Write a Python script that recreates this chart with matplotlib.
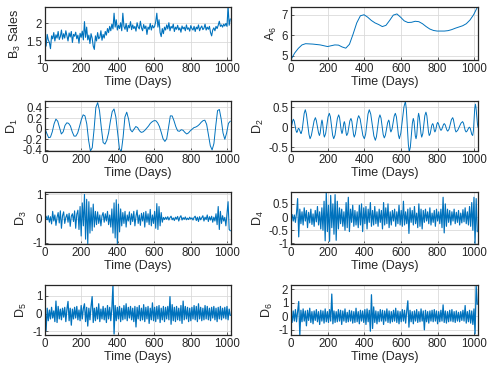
import numpy as np
import matplotlib
matplotlib.use('Agg')
import matplotlib.pyplot as plt

plt.rcParams['font.family'] = ['Liberation Sans', 'DejaVu Sans']
plt.rcParams['mathtext.fontset'] = 'custom'
plt.rcParams['mathtext.rm'] = 'Liberation Sans'
plt.rcParams['mathtext.it'] = 'Liberation Sans'
plt.rcParams['mathtext.default'] = 'regular'
plt.rcParams['axes.unicode_minus'] = False

# ---- data (values every 6 days unless noted) ----
b3_sales = [1.62, 1.38, 1.70, 1.55, 1.48, 1.31, 1.66, 1.58, 1.75, 1.52, 1.69, 1.60, 1.78, 1.56, 1.64, 1.82, 1.57,
            1.72, 1.60, 1.80, 1.66, 1.52, 1.74, 1.63, 1.78, 1.48, 1.70, 1.65, 1.76, 1.58, 1.68, 1.46, 1.73, 1.62, 1.79, 1.55,
            2.05, 1.62, 1.90,
            1.55, 1.68, 1.45, 1.72, 1.60, 1.38, 1.29, 1.66, 1.52, 1.75, 1.58, 1.62, 1.80, 1.54, 1.70, 1.60,
            1.78, 1.68, 1.86, 1.75, 1.92, 1.80,
            1.98, 1.85, 2.28, 1.90, 2.10, 1.82,
            1.95, 1.86, 2.02, 1.80, 2.28, 1.92, 1.84, 2.00, 1.78, 1.95, 1.88, 2.05, 1.83, 1.96, 1.86, 1.92, 1.79, 2.02,
            1.90, 1.85, 2.06, 1.88, 1.80, 1.97, 1.86, 1.93, 1.70, 1.90, 1.84, 2.00, 1.82, 1.95, 1.88, 1.92,
            2.05, 2.28, 1.90, 2.10, 1.75, 1.64, 1.86, 1.72,
            1.90, 1.82, 1.96, 1.85, 2.02, 1.80, 1.92, 1.87, 1.98, 1.78, 1.90, 1.84, 1.95, 1.82, 1.88, 1.76, 1.93, 1.85,
            1.90, 1.80, 1.96, 1.84, 1.88, 1.79, 1.94, 1.86, 1.82, 1.92, 1.78, 1.90, 1.85, 1.96, 1.80, 1.88, 1.93, 1.83,
            1.87, 1.98, 1.82, 1.90, 1.84, 1.92,
            1.75, 1.66, 1.82, 1.88, 1.80, 1.92, 1.86, 1.95, 2.06,
            1.92, 1.96, 1.90, 1.98, 1.93, 2.00, 1.92, 2.46, 1.95, 2.12]

# A6 every 20 days
a6 = [4.80, 5.12, 5.35, 5.52, 5.58, 5.57, 5.56, 5.54, 5.52, 5.48, 5.44, 5.48, 5.52, 5.51, 5.42, 5.36, 5.55,
      6.05, 6.60, 6.95, 7.00, 6.88, 6.72, 6.60, 6.52, 6.42, 6.48, 6.72, 6.98, 7.04, 6.88, 6.70, 6.62, 6.63,
      6.68, 6.66, 6.56, 6.42, 6.30, 6.23, 6.20, 6.20, 6.20, 6.22, 6.27, 6.34, 6.40, 6.46, 6.56, 6.74, 7.00, 7.36]

# D1 every 10 days
d1 = [0.00, -0.09, -0.17, -0.16, -0.06, 0.09, 0.18, 0.14, 0.02, -0.10, -0.06, 0.06, 0.11, 0.10, 0.05, -0.06,
      -0.14, -0.14, -0.08, 0.04, 0.17, 0.26, 0.24, 0.09, -0.22, -0.42, -0.36, -0.02, 0.40, 0.49, 0.34, 0.02,
      -0.26, -0.29, -0.22, -0.08, 0.14, 0.32, 0.37, 0.22, -0.08, -0.38, -0.43, -0.16, 0.22, 0.31, 0.18, -0.02,
      -0.06, -0.01, 0.04, 0.02, -0.04, -0.07, -0.06, -0.03, 0.01, 0.05, 0.10, 0.13, 0.15, 0.15, 0.11, 0.04,
      -0.07, -0.19, -0.24, -0.19, 0.02, 0.24, 0.24, 0.15, 0.04, -0.04, -0.05, -0.02, -0.03, -0.07, -0.10, -0.08,
      -0.04, -0.01, 0.02, 0.03, 0.05, 0.08, 0.12, 0.15, 0.16, 0.08, -0.12, -0.32, -0.40, -0.28, 0.05, 0.34,
      0.36, 0.18, -0.08, -0.20, -0.08, 0.10, 0.14]

# D2 at turning points and between them
d2_days = [0, 3, 10, 13, 18, 27, 31, 34, 39, 42, 45, 52, 55, 61, 72, 78, 84, 98, 104, 111, 126, 133, 138, 150,
           155, 159, 166, 169, 172, 179, 182, 189, 202, 209, 215, 227, 233, 240, 253, 260, 265, 274, 278, 281,
           288, 291, 294, 301, 304, 310, 321, 327, 332, 341, 345, 351, 363, 369, 377, 392, 400, 407, 420, 427,
           435, 452, 460, 466, 479, 485, 491, 503, 509, 515, 527, 533, 536, 542, 545, 551, 563, 569, 575, 586,
           591, 599, 616, 624, 629, 640, 645, 651, 662, 667, 671, 678, 682, 686, 693, 696, 700, 709, 713, 719,
           730, 736, 741, 750, 754, 759, 768, 773, 776, 782, 785, 789, 796, 800, 804, 814, 818, 822, 832, 836,
           841, 850, 855, 862, 875, 882, 886, 896, 900, 909, 927, 936, 941, 950, 955, 960, 969, 973, 978, 986,
           991, 995, 1002, 1006, 1009, 1017, 1020]
d2 = [0.00, 0.03, 0.17, 0.20, 0.15, -0.08, -0.13, -0.12, -0.04, -0.03, -0.05, -0.14, -0.16, -0.07, 0.35, 0.44,
      0.33, -0.18, -0.29, -0.21, 0.16, 0.24, 0.17, -0.14, -0.21, -0.15, 0.12, 0.18, 0.12, -0.19, -0.25, -0.16,
      0.26, 0.35, 0.26, -0.20, -0.29, -0.20, 0.22, 0.31, 0.24, -0.09, -0.16, -0.12, 0.10, 0.14, 0.09, -0.16,
      -0.21, -0.15, 0.16, 0.22, 0.15, -0.18, -0.25, -0.17, 0.21, 0.29, 0.21, -0.21, -0.29, -0.18, 0.33, 0.44,
      0.33, -0.22, -0.33, -0.24, 0.22, 0.31, 0.23, -0.19, -0.27, -0.20, 0.11, 0.18, 0.14, -0.08, -0.12, -0.05,
      0.28, 0.35, 0.26, -0.20, -0.29, -0.15, 0.51, 0.65, 0.46, -0.43, -0.62, -0.50, 0.10, 0.22, 0.15, -0.22,
      -0.29, -0.20, 0.26, 0.35, 0.26, -0.16, -0.25, -0.16, 0.29, 0.38, 0.29, -0.12, -0.21, -0.17, 0.05, 0.09,
      0.06, -0.09, -0.12, -0.08, 0.08, 0.12, 0.09, -0.05, -0.08, -0.06, 0.07, 0.09, 0.06, -0.07, -0.10, -0.05,
      0.19, 0.24, 0.19, -0.07, -0.12, -0.08, 0.10, 0.14, 0.10, -0.08, -0.12, -0.10, -0.02, 0.00, -0.03, -0.18,
      -0.21, -0.09, 0.46, 0.58, 0.50, 0.08, 0.00]

d3 = [0.05, 0.10, -0.05, 0.12, -0.15, 0.08, -0.22, 0.30, -0.10, 0.15, -0.28, 0.05, 0.25, -0.18, 0.32, -0.40,
      0.12, 0.28, -0.20, 0.05, 0.18, -0.15, 0.22, -0.32, 0.10, 0.20, -0.12, 0.32, -0.40, 0.18, 0.35,
      -0.45, 0.50, -0.72, 0.65, -0.30, 1.00, -0.85, 0.80, -1.05, 0.70, -0.60, 0.45, -0.50, 0.60,
      -0.35, 0.30, -0.25, 0.28, -0.20, 0.15, -0.30, 0.12, 0.25, -0.15, 0.20, -0.10,
      0.30, -0.25, 0.15, -0.35, 0.40,
      -0.60, 0.65, -0.80, 0.78, -1.05, 0.60, -0.55, 0.40, -0.30,
      0.25, -0.20, 0.30, -0.35, 0.15, -0.10, 0.28, -0.25, 0.20, -0.12, 0.30, -0.30, 0.10, 0.35, -0.20, 0.15,
      -0.28, 0.22, -0.10, 0.25, -0.35, 0.30, -0.15, 0.20, -0.25, 0.38, -0.30, 0.15, -0.20,
      0.30, -0.40, 0.62, -0.45, 0.50, -0.30, 0.25, -0.15,
      0.05, -0.04, 0.06, -0.03, 0.08, -0.06, 0.04, 0.10, -0.05, 0.03, -0.08, 0.06, -0.02, 0.09, -0.10, 0.05,
      0.12, -0.06, 0.04, -0.03, 0.07, -0.05, 0.02, -0.04, 0.06, -0.02, 0.03, -0.06, 0.05, 0.10, -0.08, 0.06,
      -0.12, 0.08, -0.05, 0.04, 0.12, -0.10, 0.06, -0.04, 0.15, -0.12, 0.08, -0.06, 0.10, -0.15, 0.06, -0.10,
      0.20, -0.25, 0.50, -0.45, 0.30, -0.20,
      0.12, -0.10, 0.05, -0.30, 0.20, 0.70, -0.45, -0.50]

d4 = [-0.05, 0.10, -0.15, 0.08, -0.20, 0.15,
      0.70, -0.75, 0.30,
      -0.25, 0.20, -0.30, 0.35, -0.15, 0.25, -0.40, 0.18, -0.22, 0.30, -0.28, 0.12, -0.35, 0.25, -0.18, 0.40,
      -0.30, 0.20, -0.45, 0.35,
      -0.50, 0.60, -0.90, 0.95, -0.55, 0.45, -0.92, 0.82, -0.40, 0.50, -0.65, 0.85, -0.88, 0.60, -0.45, 0.35,
      -0.25, 0.30, -0.35, 0.20, -0.50, 0.55, -0.40, 0.75, -0.55, 0.30, -0.20, 0.45, -0.35, 0.25, -0.30, 0.20,
      -0.40, 0.45, -0.30, 0.50, -0.55, 0.35, -0.25, 0.40, -0.45, 0.30, -0.20, 0.55, -0.35, 0.25, -0.30, 0.40,
      -0.25, 0.20, -0.35,
      0.30, -0.20, 0.25, -0.45, 0.55, -0.30, 0.35, -0.25, 0.50, -0.40, 0.20, -0.30, 0.25, -0.15, 0.30, -0.35,
      0.20, -0.25, 0.45, -0.30,
      0.25, -0.35, 0.60, -0.30, 0.20, -0.25, 0.30, -0.62, 0.35, -0.20, 0.25, -0.30, 0.40, -0.25, 0.15, -0.40,
      0.50, -0.35, 0.30, -0.45,
      0.25, -0.20, 0.30, -0.15, 0.20, -0.25, 0.35, -0.30, 0.15, -0.20, 0.25, -0.35, 0.30, -0.15, 0.20, -0.25, 0.30,
      -0.40, 0.75, -0.60, 0.50, -0.35, 0.30,
      -0.20, 0.25, -0.30, 0.20, -0.15, 0.30, -0.25, 0.18, -0.20, 0.25, -0.30, 0.15, -0.22, 0.28, -0.18, 0.35,
      -0.25, 0.20, -0.30,
      0.40, -0.35, 0.55, -0.50, 0.75, -1.00, 0.70, -0.55]

d5 = [0.45, -0.95, 0.30, -0.40, 0.20, -0.30, 0.35, -0.25, 0.15, -0.45,
      0.70, -0.50, 0.40,
      -0.30, 0.25, -0.35, 0.30, -0.20, 0.35, -0.45, 0.25,
      0.68, -0.40, 0.30,
      -0.65, 0.25, -0.30, 0.35, -0.25, 0.40, -0.35, 0.20, -0.40, 0.45, -0.30, 0.30,
      0.55, -0.45, 0.35, -0.70, 0.30,
      -0.35, 0.40, 0.95, -0.50, 0.30,
      -0.40, 0.35, -0.30, 0.55, -0.45, 0.25, -0.30,
      0.40, -0.35, 0.30, -0.50, 0.45, -0.30, 0.35, -0.40, 0.30,
      1.60, -1.15, 0.45,
      -0.40, 0.35, -0.30, 0.40, -0.45, 0.30, -0.35, 0.45, -0.30, 0.55, -0.40, 0.35, -0.25, 0.40, -0.35, 0.30,
      -0.45, 0.40, -0.75, 0.35, -0.30, 0.45, -0.40, 0.30, -0.35, 0.50, -0.45, 0.35, -0.30, 0.40, -0.55, 0.30,
      -0.35, 0.60, -0.40,
      0.35, -0.45, 0.40, -0.30, 0.45, -0.50, 0.30, -0.35, 0.40, -0.45, 0.35, -0.30, 0.40, -0.35,
      0.95, -0.60, 0.50,
      -0.40, 0.35, -0.45, 0.40, -0.35, 0.30, -0.40, 0.45, -0.55, 0.70, -0.35, 0.40, -0.30, 0.35, -0.45, 0.30,
      -0.40, 0.35, -0.30, 0.45, -0.35, 0.40, -0.45, 0.55,
      -0.30, 0.35, -0.40, 0.30, -0.35, 0.45, -0.30, 0.40, -0.35, 0.30, -0.40, 0.35, -0.25, 0.40, -0.35, 0.30,
      -0.45, 0.35, -0.30, 0.40, -0.35, 0.30, -0.25, 0.35, -0.30, 0.40, -0.35, 0.25, -0.10]

d6 = [0.30, -0.45, 0.40, -0.35, 0.50, -0.40, 0.35,
      1.10, -1.40, 0.45,
      -0.40, 0.55, -0.35, 0.40, -0.70, 0.45, -0.30, 0.60, -0.45, 0.35, -0.55, 0.40, -0.30, 0.50, -0.40, 0.35,
      -0.60, 0.45, -0.35, 0.40, -0.50, 0.55, -0.40, 0.35, -0.45, 0.50, -0.35,
      1.65, -0.55, 0.40,
      -0.45, 0.35, -0.40, 0.50, -0.35, 0.45, -0.60, 0.40, -0.35, 0.55, -0.45, 0.30, -0.40, 0.45, -0.35, 0.40,
      -0.50, 0.35, -0.45, 0.60, -0.40, 0.35, -0.55, 0.45, -0.35, 0.40, -0.45, 0.50, -0.60, 0.55, -0.40, 0.45,
      -1.10, 1.60, -0.90, 0.70,
      -0.45, 0.40, -0.55, 0.35, -0.40, 0.50, -0.35, 0.45, -0.60, 0.40, -0.35, 0.55, -0.45, 0.40, -0.50, 0.35,
      -0.40, 0.45, -0.35, 0.60, -0.45, 0.40, -0.55, 0.35, -0.40, 0.50, -0.35, 0.45, -0.50, 0.40,
      1.15, -0.80,
      0.45, -0.40, 0.35, -0.55, 0.40, -0.35, 0.50, -0.45, 0.35, -0.40, 0.55, -0.35, 0.40, -1.00, 0.45, -0.40,
      0.35, -0.50, 0.40, -0.35, 0.45, -0.40, 0.50, -0.35, 0.40, -0.55, 0.35, -0.40, 0.45, -0.35, 0.85, -0.45,
      0.40, -0.50, 0.35, -0.40, 0.45, -0.35, 0.50, -0.40, 0.35, -0.45, 0.40, -0.35, 0.30, -0.40, 0.35, -0.30,
      0.45, -0.35, 0.80, -0.50,
      0.35, -0.40, 0.45, -0.50, 0.40, -0.60, 0.55, -1.30, 2.30, 0.90]

xticks = [0, 200, 400, 600, 800, 1000]
last_day = 1016

# (values, days or None, ylim, yticks, ylabel, line width)
panels = [
    (b3_sales, None, (1, 2.45), [1, 1.5, 2], r'B$_3$ Sales', 0.8),
    (a6, None, (4.78, 7.38), [5, 6, 7], r'A$_6$', 0.7),
    (d1, None, (-0.42, 0.52), [-0.4, -0.2, 0, 0.2, 0.4], r'D$_1$', 0.7),
    (d2, d2_days, (-0.6, 0.66), [-0.5, 0, 0.5], r'D$_2$', 0.7),
    (d3, None, (-1.05, 1.1), [-1, 0, 1], r'D$_3$', 0.8),
    (d4, None, (-1.02, 0.95), [-1, -0.5, 0, 0.5], r'D$_4$', 0.85),
    (d5, None, (-1.2, 1.6), [-1, 0, 1], r'D$_5$', 0.9),
    (d6, None, (-1.38, 2.32), [-1, 0, 1, 2], r'D$_6$', 0.9),
]

# axes boxes in pixels
rows_px = [(7, 60), (101, 151), (192, 244), (285, 335)]
cols_px = [(45, 231), (291, 478)]
W, H = 497, 375

fig = plt.figure(figsize=(W / 100, H / 100), dpi=100)
txt = '#262626'

for k, (vals, days, ylim, yt, ylab, lw) in enumerate(panels):
    r, c = divmod(k, 2)
    x0, x1 = cols_px[c]
    y0, y1 = rows_px[r]
    ax = fig.add_axes([x0 / W, 1 - y1 / H, (x1 - x0) / W, (y1 - y0) / H])
    if days is None:
        days = np.linspace(0, last_day, len(vals))
    ax.plot(days, vals, color='#0072BD', linewidth=lw)
    ax.set_xlim(0, 1020)
    ax.set_ylim(*ylim)
    ax.set_xticks(xticks)
    ax.set_yticks(yt)
    ax.set_yticklabels(['%g' % v for v in yt])
    ax.grid(True, color='#dadada', linewidth=0.6)
    ax.set_axisbelow(True)
    ax.tick_params(direction='in', length=2, width=0.5, colors=txt, labelsize=8.3, pad=2)
    for s in ax.spines.values():
        s.set_color(txt)
        s.set_linewidth(0.9)
    ax.set_xlabel('Time (Days)', fontsize=9, color=txt, labelpad=1)
    ax.set_ylabel(ylab, fontsize=9, color=txt, labelpad=2)

fig.savefig('out.png', dpi=100)
